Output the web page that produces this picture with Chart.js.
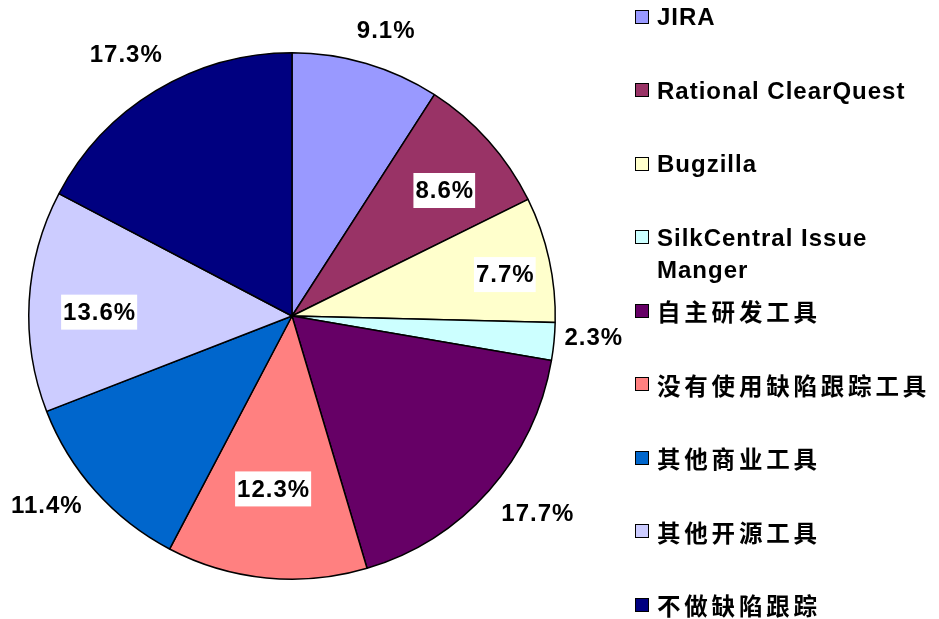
<!DOCTYPE html>
<html>
<head>
<meta charset="utf-8">
<script src="https://cdn.jsdelivr.net/npm/chart.js@4/dist/chart.umd.min.js"></script>
<style>
  html, body { margin: 0; padding: 0; background: #fff; overflow: hidden; }
  body { width: 939px; height: 619px; position: relative; }
  #c { position: absolute; left: 0; top: 0; }
  #legend { position: absolute; left: 0; top: 0; width: 939px; height: 619px; pointer-events: none; }
  .item { position: absolute; left: 635px; width: 310px; display: flex; align-items: flex-start; }
  .box { width: 12px; height: 12px; border: 1.5px solid #000; margin-top: 8.5px; flex: none; }
  .txt { margin-left: 8px; width: 280px; font-family: "Liberation Sans", Arial, sans-serif; font-weight: bold;
         font-size: 24px; line-height: 32px; letter-spacing: 1px; color: #000; }
  .txt.cjk { font-family: "Noto Sans CJK SC", sans-serif; font-size: 23.5px; letter-spacing: 3.8px; white-space: nowrap; }
</style>
</head>
<body>
<canvas id="c" width="640" height="619"></canvas>
<div id="legend"></div>
<script>
const categories = ["JIRA", "Rational ClearQuest", "Bugzilla", "SilkCentral Issue Manger",
  "自主研发工具", "没有使用缺陷跟踪工具", "其他商业工具", "其他开源工具", "不做缺陷跟踪"];
const shares = [9.1, 8.6, 7.7, 2.3, 17.7, 12.3, 11.4, 13.6, 17.3];
const sliceColors = ["#9999FF", "#993366", "#FFFFCC", "#CCFFFF", "#660066", "#FF8080", "#0066CC", "#CCCCFF", "#000080"];

const labelPlugin = {
  id: 'pctLabels',
  afterDatasetsDraw(chart, args, opts) {
    const ctx = chart.ctx;
    const meta = chart.getDatasetMeta(0);
    ctx.save();
    ctx.font = 'bold 24px "Liberation Sans", Arial, sans-serif';
    ctx.letterSpacing = '1px';
    ctx.textAlign = 'center';
    ctx.textBaseline = 'middle';
    meta.data.forEach((arc, i) => {
      const p = arc.getProps(['x', 'y', 'startAngle', 'endAngle', 'outerRadius'], true);
      const mid = (p.startAngle + p.endAngle) / 2;
      const f = opts.radiusFactor[i];
      const off = opts.nudge[i];
      const x = p.x + Math.cos(mid) * p.outerRadius * f + off[0];
      const y = p.y + Math.sin(mid) * p.outerRadius * f + off[1];
      const text = shares[i].toFixed(1) + '%';
      const w = ctx.measureText(text).width;
      if (f < 1) {
        ctx.fillStyle = '#fff';
        ctx.fillRect(x - w / 2 - 1.5, y - 17.5, w + 3, 35);
      }
      ctx.fillStyle = '#000';
      ctx.fillText(text, x + 0.5, y + 1);
    });
    ctx.restore();
  }
};

const chart = new Chart(document.getElementById('c'), {
  type: 'pie',
  data: {
    labels: categories,
    datasets: [{
      data: shares,
      backgroundColor: sliceColors,
      borderColor: '#000',
      borderWidth: 1.5
    }]
  },
  options: {
    responsive: false,
    animation: false,
    layout: { padding: { left: 28, right: 84, top: 52, bottom: 39 } },
    plugins: {
      legend: { display: false },
      tooltip: { enabled: false },
      pctLabels: {
        radiusFactor: [1.14, 0.75, 0.82, 1.15, 1.19, 0.66, 1.17, 0.73, 1.17],
        nudge: [[9, 2], [5, 6], [2, 5], [0, -8], [11, -11], [-2, 0], [-16, -16], [-1, 7], [-7, 2]]
      }
    }
  },
  plugins: [labelPlugin]
});

// HTML legend built from the chart's own data
const legend = document.getElementById('legend');
const ds = chart.data.datasets[0];
chart.data.labels.forEach((lab, i) => {
  const item = document.createElement('div');
  item.className = 'item';
  item.style.top = (1 + 73.5 * i) + 'px';
  const box = document.createElement('div');
  box.className = 'box';
  box.style.background = ds.backgroundColor[i];
  const txt = document.createElement('div');
  txt.className = 'txt' + (/[\u4e00-\u9fff]/.test(lab) ? ' cjk' : '');
  txt.textContent = lab;
  item.appendChild(box);
  item.appendChild(txt);
  legend.appendChild(item);
});
</script>
</body>
</html>
